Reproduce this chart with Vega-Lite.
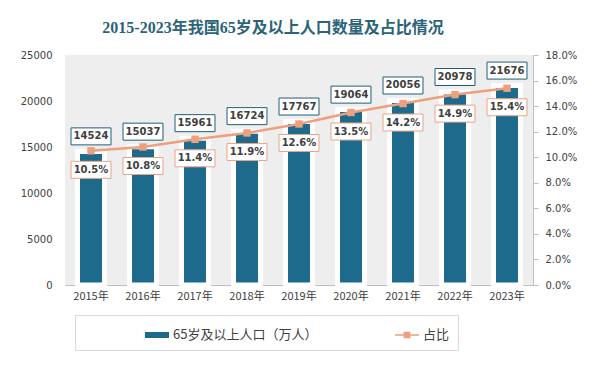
{
  "$schema": "https://vega.github.io/schema/vega-lite/v6.json",
  "autosize": "none",
  "width": 468,
  "height": 230,
  "padding": {"left": 65, "top": 55, "right": 61, "bottom": 81},
  "background": "white",
  "view": {"fill": "#eeeeee", "stroke": null},
  "title": {
    "text": "2015-2023年我国65岁及以上人口数量及占比情况",
    "font": "Liberation Serif, Noto Sans CJK SC",
    "fontSize": 16,
    "fontWeight": "bold",
    "color": "#2b6478",
    "anchor": "middle",
    "dx": -26,
    "offset": 14
  },
  "data": {
    "values": [
      {"year": "2015年", "pop": 14524, "pct": 0.105},
      {"year": "2016年", "pop": 15037, "pct": 0.108},
      {"year": "2017年", "pop": 15961, "pct": 0.114},
      {"year": "2018年", "pop": 16724, "pct": 0.119},
      {"year": "2019年", "pop": 17767, "pct": 0.126},
      {"year": "2020年", "pop": 19064, "pct": 0.135},
      {"year": "2021年", "pop": 20056, "pct": 0.142},
      {"year": "2022年", "pop": 20978, "pct": 0.149},
      {"year": "2023年", "pop": 21676, "pct": 0.154}
    ]
  },
  "encoding": {
    "x": {
      "field": "year",
      "type": "nominal",
      "sort": null,
      "scale": {"paddingInner": 0, "paddingOuter": 0},
      "axis": {
        "title": null,
        "labelAngle": 0,
        "ticks": false,
        "domainColor": "#bfbfbf",
        "labelFont": "Noto Sans CJK SC",
        "labelFontSize": 11,
        "labelColor": "#404040",
        "labelPadding": 5
      }
    }
  },
  "layer": [
    {
      "encoding": {
        "y": {
          "field": "pop",
          "type": "quantitative",
          "scale": {"domain": [0, 25000]},
          "axis": {
            "title": null,
            "orient": "left",
            "values": [0, 5000, 10000, 15000, 20000, 25000],
            "format": "d",
            "grid": false,
            "domain": false,
            "ticks": false,
            "labelPadding": 13,
            "labelFont": "DejaVu Sans",
            "labelFontSize": 10,
            "labelColor": "#404040"
          }
        }
      },
      "layer": [
        {
          "mark": {"type": "bar", "width": 27, "stroke": "white", "strokeWidth": 5},
          "encoding": {
            "color": {
              "datum": "65岁及以上人口（万人）",
              "type": "nominal",
              "legend": {
                "encode": {
                  "symbols": {
                    "update": {
                      "shape": [
                        {"test": "datum.value === '占比'", "value": "M-1,-0.06H1V0.06H-1Z M-0.28,-0.28H0.28V0.28H-0.28Z"},
                        {"value": "M-1,-0.25H1V0.25H-1Z"}
                      ],
                      "fill": [
                        {"test": "datum.value === '占比'", "value": "#ee9f7d"},
                        {"value": "#1d6a8c"}
                      ],
                      "stroke": {"value": "transparent"},
                      "strokeWidth": {"value": 0},
                      "opacity": {"value": 1}
                    }
                  }
                }
              }
            }
          }
        },
        {
          "mark": {
            "type": "point",
            "shape": "M-2.35,-1H2.35V1H-2.35Z",
            "size": 289,
            "filled": true,
            "fill": "white",
            "stroke": "#1f5f78",
            "strokeWidth": 1,
            "opacity": 1,
            "yOffset": -15
          }
        },
        {
          "mark": {
            "type": "text",
            "font": "DejaVu Sans",
            "fontWeight": "bold",
            "fontSize": 10,
            "color": "#404040",
            "dy": -15,
            "baseline": "middle"
          },
          "encoding": {"text": {"field": "pop", "type": "quantitative", "format": "d"}}
        }
      ]
    },
    {
      "encoding": {
        "y": {
          "field": "pct",
          "type": "quantitative",
          "scale": {"domain": [0, 0.18]},
          "axis": {
            "title": null,
            "orient": "right",
            "values": [0, 0.02, 0.04, 0.06, 0.08, 0.1, 0.12, 0.14, 0.16, 0.18],
            "format": ".1%",
            "grid": false,
            "domainColor": "#bfbfbf",
            "tickColor": "#bfbfbf",
            "tickSize": 5,
            "labelPadding": 7,
            "labelFont": "DejaVu Sans",
            "labelFontSize": 10,
            "labelColor": "#404040"
          }
        }
      },
      "layer": [
        {
          "mark": {"type": "line", "strokeWidth": 2.5},
          "encoding": {
            "color": {
              "datum": "占比",
              "type": "nominal",
              "legend": {
                "encode": {
                  "symbols": {
                    "update": {
                      "shape": [
                        {"test": "datum.value === '占比'", "value": "M-1,-0.06H1V0.06H-1Z M-0.28,-0.28H0.28V0.28H-0.28Z"},
                        {"value": "M-1,-0.25H1V0.25H-1Z"}
                      ],
                      "fill": [
                        {"test": "datum.value === '占比'", "value": "#ee9f7d"},
                        {"value": "#1d6a8c"}
                      ],
                      "stroke": {"value": "transparent"},
                      "strokeWidth": {"value": 0},
                      "opacity": {"value": 1}
                    }
                  }
                }
              }
            }
          }
        },
        {
          "mark": {"type": "point", "shape": "square", "filled": true, "size": 55, "color": "#ee9f7d", "opacity": 1}
        },
        {
          "mark": {
            "type": "point",
            "shape": "M-2.35,-1H2.35V1H-2.35Z",
            "size": 289,
            "filled": true,
            "fill": "white",
            "stroke": "#e9a588",
            "strokeWidth": 1,
            "opacity": 1,
            "yOffset": 19
          }
        },
        {
          "mark": {
            "type": "text",
            "font": "DejaVu Sans",
            "fontWeight": "bold",
            "fontSize": 10,
            "color": "#404040",
            "dy": 19,
            "baseline": "middle"
          },
          "encoding": {"text": {"field": "pct", "type": "quantitative", "format": ".1%"}}
        }
      ]
    }
  ],
  "resolve": {"scale": {"y": "independent"}},
  "config": {
    "range": {"category": ["#1d6a8c", "#ee9f7d"]},
    "legend": {
      "orient": "none",
      "legendX": 10,
      "legendY": 260,
      "direction": "horizontal",
      "padding": 8,
      "strokeColor": "#d9d9d9",
      "title": null,
      "labelFont": "Noto Sans CJK SC",
      "labelFontSize": 13,
      "labelColor": "#404040",
      "symbolSize": 576,
      "symbolOffset": 62,
      "labelOffset": 4,
      "columnPadding": 15
    }
  }
}
